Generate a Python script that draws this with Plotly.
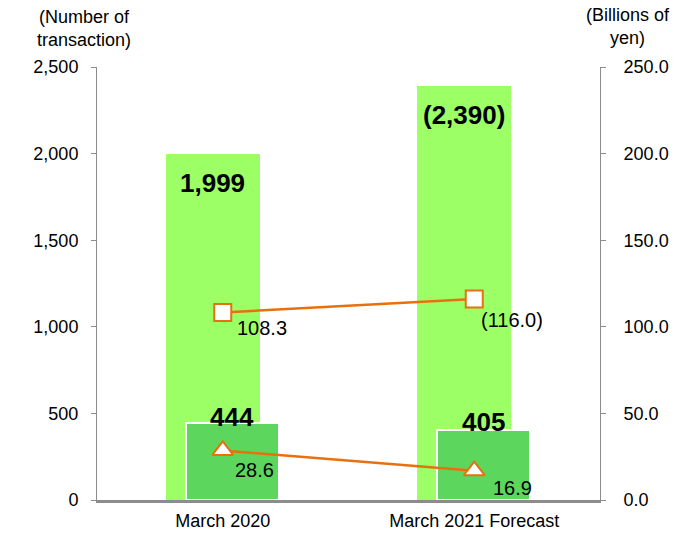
import plotly.graph_objects as go

categories = ["March 2020", "March 2021 Forecast"]
total_transactions = [1999, 2390]
total_labels = ["1,999", "(2,390)"]
sub_transactions = [444, 405]
sub_labels = ["444", "405"]
total_amount = [108.3, 116.0]
total_amount_labels = ["108.3", "(116.0)"]
sub_amount = [28.6, 16.9]
sub_amount_labels = ["28.6", "16.9"]

xpos = list(range(len(categories)))
FONT = "Liberation Sans, Arial, sans-serif"
ORANGE = "#E8700F"
GREY = "#8C8C8C"
TICK_SIZE = 18

BIG_W, BIG_OFF = 0.374, -0.226
SUB_W, SUB_OFF = 0.37, -0.148

fig = go.Figure()

fig.add_trace(go.Bar(
    x=xpos, y=total_transactions, width=BIG_W, offset=BIG_OFF,
    marker=dict(color="#9CFF66", line=dict(width=0)),
    hoverinfo="skip", showlegend=False,
))
fig.add_trace(go.Bar(
    x=xpos, y=sub_transactions, width=SUB_W, offset=SUB_OFF,
    marker=dict(color="#5CD65C", line=dict(color="white", width=2)),
    hoverinfo="skip", showlegend=False,
))
fig.add_trace(go.Scatter(
    x=xpos, y=total_amount, yaxis="y2", mode="lines+markers",
    line=dict(color=ORANGE, width=2.5),
    marker=dict(symbol="square", size=17, color="white",
                line=dict(color=ORANGE, width=2)),
    hoverinfo="skip", showlegend=False,
))
fig.add_trace(go.Scatter(
    x=xpos, y=sub_amount, yaxis="y2", mode="lines+markers",
    line=dict(color=ORANGE, width=2.5),
    marker=dict(symbol="triangle-up", size=18, color="white",
                line=dict(color=ORANGE, width=2)),
    hoverinfo="skip", showlegend=False,
))

# labels for the tall bars, inside near the top
for x, y, t in zip(xpos, total_transactions, total_labels):
    fig.add_annotation(x=x + BIG_OFF + BIG_W / 2, y=y, text=t, showarrow=False,
                       yanchor="middle", yshift=-29,
                       font=dict(family=FONT, size=26, color="black", weight="bold"))
# labels for the short bars, sitting on their tops
for x, y, t, ys in zip(xpos, sub_transactions, sub_labels, [6, 8]):
    fig.add_annotation(x=x + SUB_OFF + SUB_W / 2, y=y, text=t, showarrow=False,
                       yanchor="middle", yshift=ys,
                       font=dict(family=FONT, size=26, color="black", weight="bold"))
# line value labels
for x, y, t, xs, ys in zip(xpos, total_amount, total_amount_labels, [12, 5], [-16, -21]):
    fig.add_annotation(x=x, y=y, yref="y2", text=t, showarrow=False,
                       xanchor="left", xshift=xs, yshift=ys,
                       font=dict(family=FONT, size=20, color="black"))
for x, y, t, xs, ys in zip(xpos, sub_amount, sub_amount_labels, [10, 17], [-20, -17]):
    fig.add_annotation(x=x, y=y, yref="y2", text=t, showarrow=False,
                       xanchor="left", xshift=xs, yshift=ys,
                       font=dict(family=FONT, size=20, color="black"))

# axis titles
fig.add_annotation(xref="paper", yref="paper", x=-0.026, y=1.0, yshift=15,
                   xanchor="center", yanchor="bottom", showarrow=False,
                   text="(Number of<br>transaction)", align="center",
                   font=dict(family=FONT, size=18, color="black"))
fig.add_annotation(xref="paper", yref="paper", x=1.056, y=1.0, yshift=17,
                   xanchor="center", yanchor="bottom", showarrow=False,
                   text="(Billions of<br>yen)", align="center",
                   font=dict(family=FONT, size=18, color="black"))

fig.update_layout(
    width=690, height=534,
    margin=dict(l=97, r=90, t=67, b=34),
    paper_bgcolor="white", plot_bgcolor="white",
    barmode="overlay", bargap=0,
    font=dict(family=FONT, size=TICK_SIZE, color="black"),
    xaxis=dict(
        tickmode="array", tickvals=xpos, ticktext=categories,
        range=[-0.5, 1.5], showgrid=False, zeroline=False,
        showline=True, linecolor=GREY, linewidth=3, ticks="",
        ticklabelstandoff=2, automargin=False,
        tickfont=dict(family=FONT, size=TICK_SIZE),
    ),
    yaxis=dict(
        range=[0, 2500], tickvals=[0, 500, 1000, 1500, 2000, 2500],
        tickformat=",", showgrid=False, zeroline=False,
        showline=True, linecolor=GREY, linewidth=1,
        ticks="outside", ticklen=5, tickcolor=GREY,
        ticklabelstandoff=9, automargin=False,
        tickfont=dict(family=FONT, size=TICK_SIZE),
    ),
    yaxis2=dict(
        range=[0, 250], tickvals=[0, 50, 100, 150, 200, 250],
        tickformat=".1f", overlaying="y", side="right",
        showgrid=False, zeroline=False,
        showline=True, linecolor=GREY, linewidth=1,
        ticks="outside", ticklen=5, tickcolor=GREY,
        ticklabelstandoff=14, automargin=False,
        tickfont=dict(family=FONT, size=TICK_SIZE),
    ),
)

fig.write_html("out.html")
